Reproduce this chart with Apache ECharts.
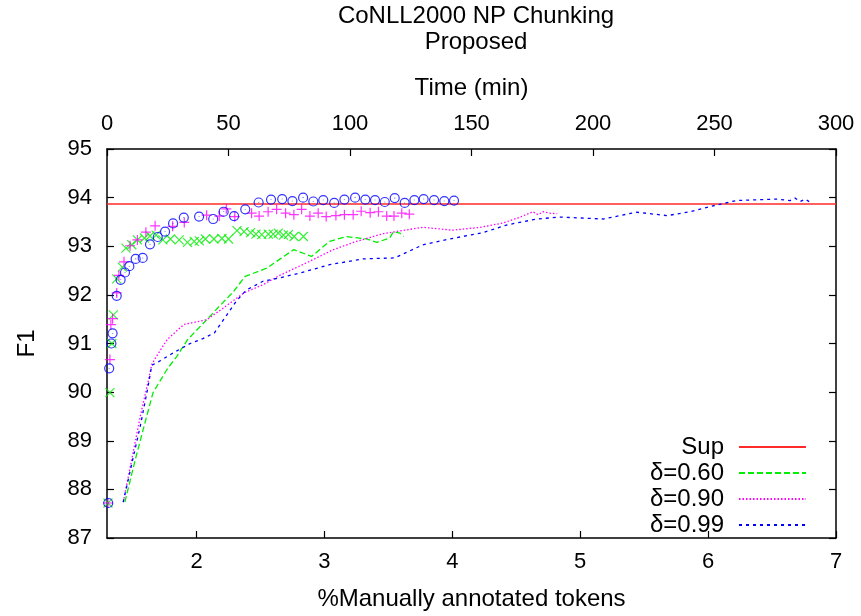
<!DOCTYPE html>
<html>
<head>
<meta charset="utf-8">
<script src="https://cdn.jsdelivr.net/npm/echarts@6/dist/echarts.min.js"></script>
<style>
  html, body { margin: 0; padding: 0; background: #fff; }
  #chart { width: 861px; height: 616px; }
</style>
</head>
<body>
<div id="chart"></div>
<script>
  // 하단축: %Manually annotated tokens / 상단축: Time (min)
  var tokenTicks = [2, 3, 4, 5, 6, 7];
  var supF1 = 93.87;

  // 선 (하단축 기준) [tokens, F1]
  var d060Line = [
    [1.44, 87.74], [1.52, 88.6], [1.60, 89.4], [1.66, 89.99], [1.77, 90.47], [1.85, 90.75],
    [1.93, 91.08], [2.08, 91.49], [2.18, 91.77], [2.29, 92.07], [2.38, 92.38], [2.55, 92.55],
    [2.66, 92.75], [2.76, 92.93], [2.90, 92.79], [3.04, 93.10], [3.17, 93.20], [3.33, 93.15],
    [3.41, 93.08], [3.51, 93.17], [3.54, 93.30], [3.59, 93.27], [3.62, 93.20]
  ];
  var d090Line = [
    [1.427, 87.74], [1.50, 88.7], [1.56, 89.5], [1.62, 90.2], [1.65, 90.57], [1.69, 90.75],
    [1.77, 91.08], [1.90, 91.39], [2.08, 91.49], [2.21, 91.73], [2.37, 92.04], [2.52, 92.21],
    [2.65, 92.40], [2.86, 92.66], [3.07, 92.93], [3.25, 93.10], [3.46, 93.26], [3.77, 93.39],
    [4.00, 93.33], [4.22, 93.39], [4.40, 93.48], [4.53, 93.60], [4.63, 93.71], [4.67, 93.65],
    [4.71, 93.71], [4.76, 93.68], [4.82, 93.67]
  ];
  var d099Line = [
    [1.427, 87.74], [1.50, 88.6], [1.56, 89.3], [1.62, 90.1], [1.65, 90.55], [1.72, 90.65],
    [1.80, 90.78], [1.95, 91.0], [2.05, 91.1], [2.14, 91.22], [2.24, 91.6], [2.31, 91.87],
    [2.39, 92.1], [2.52, 92.28], [2.65, 92.35], [2.81, 92.45], [3.04, 92.62], [3.30, 92.74],
    [3.55, 92.76], [3.77, 93.03], [3.98, 93.15], [4.24, 93.28], [4.43, 93.44], [4.66, 93.56],
    [4.84, 93.60], [5.18, 93.56], [5.44, 93.70], [5.68, 93.63], [5.86, 93.71], [6.07, 93.85],
    [6.22, 93.94], [6.54, 93.97], [6.64, 93.94], [6.68, 93.99], [6.72, 93.92], [6.76, 93.97],
    [6.80, 93.90]
  ];

  // 점 (상단축 기준) [min, F1]
  var d060Pts = [
    [0.4, 87.72], [1.2, 89.99], [2.0, 91.0], [2.6, 91.59], [4.0, 92.33], [6.3, 92.57],
    [7.8, 92.96], [10.2, 93.03], [12.5, 93.13], [15.4, 93.17], [17.7, 93.21], [20.2, 93.23],
    [23.0, 93.13], [26.1, 93.15], [29.7, 93.13], [33.1, 93.08], [35.9, 93.10], [38.0, 93.11],
    [40.5, 93.15], [44.0, 93.15], [47.3, 93.16], [50.0, 93.15], [53.5, 93.32], [56.4, 93.30],
    [59.1, 93.28], [61.3, 93.25], [63.7, 93.24], [66.4, 93.25], [68.4, 93.25], [70.5, 93.27],
    [72.6, 93.23], [74.6, 93.24], [77.0, 93.20], [80.8, 93.20]
  ];
  var d090Pts = [
    [0.4, 87.72], [1.2, 90.67], [1.6, 91.39], [2.3, 91.51], [4.0, 92.04], [4.9, 92.40],
    [7.0, 92.68], [9.5, 93.01], [12.5, 93.13], [16.0, 93.29], [19.8, 93.42], [27.0, 93.41],
    [31.8, 93.49], [41.0, 93.64], [46.2, 93.62], [49.1, 93.77], [52.6, 93.61], [59.5, 93.68],
    [62.6, 93.62], [66.3, 93.71], [69.8, 93.76], [73.5, 93.68], [76.9, 93.65], [80.1, 93.76],
    [83.5, 93.62], [86.9, 93.68], [90.2, 93.61], [94.2, 93.63], [97.7, 93.65], [101.3, 93.65],
    [104.6, 93.72], [108.3, 93.69], [111.7, 93.71], [115.1, 93.62], [118.1, 93.62], [121.3, 93.68],
    [124.4, 93.66]
  ];
  var d099Pts = [
    [0.5, 87.72], [0.9, 90.49], [1.8, 91.0], [2.3, 91.21], [4.0, 91.98], [5.6, 92.31],
    [7.4, 92.46], [9.2, 92.59], [11.8, 92.74], [14.7, 92.76], [17.7, 93.04], [20.9, 93.19],
    [23.9, 93.30], [27.2, 93.47], [31.6, 93.59], [37.9, 93.61], [43.7, 93.56], [48.0, 93.71],
    [52.3, 93.62], [56.9, 93.76], [62.4, 93.90], [67.5, 93.96], [72.1, 93.97], [76.3, 93.93],
    [80.7, 94.0], [84.9, 93.92], [89.0, 93.95], [93.5, 93.89], [97.7, 93.96], [102.1, 94.0],
    [106.3, 93.96], [110.3, 93.95], [114.3, 93.91], [118.4, 93.99], [122.5, 93.89], [126.5, 93.95],
    [130.3, 93.97], [134.6, 93.95], [138.8, 93.93], [142.8, 93.94]
  ];

  const FONT = 'Liberation Sans';
  const symCross = 'path://M0,0L10,10M10,0L0,10';
  const symPlus = 'path://M5,0L5,10M0,5L10,5';
  const symCircle = 'path://M0,10A10,10,0,1,0,20,10A10,10,0,1,0,0,10ZM10,9.4L10,10.6';

  let myChart = echarts.init(document.getElementById('chart'), null, { renderer: 'canvas' });

  const axisBase = {
    axisLine: { show: true, onZero: false, lineStyle: { color: '#000', width: 1.5 } },
    axisTick: { show: true, inside: true, length: 7, lineStyle: { color: '#000', width: 1.2 } },
    splitLine: { show: false },
    axisLabel: { color: '#000', fontSize: 22, fontFamily: FONT },
    nameTextStyle: { color: '#000', fontSize: 24, fontFamily: FONT }
  };

  const pointSeries = (name, data, symbol, color, size) => ({
    name: name,
    type: 'scatter',
    xAxisIndex: 1,
    yAxisIndex: 0,
    data: data,
    symbol: symbol,
    symbolSize: size,
    clip: false,
    itemStyle: { color: 'rgba(0,0,0,0)', borderColor: color, borderWidth: 1.2 },
    emphasis: { disabled: true },
    z: 3
  });

  const lineSeries = (name, data, color, dash, width) => ({
    name: name,
    type: 'line',
    xAxisIndex: 0,
    yAxisIndex: 0,
    data: data,
    symbol: 'none',
    smooth: false,
    lineStyle: { color: color, width: width, type: dash },
    itemStyle: { color: color },
    emphasis: { disabled: true },
    z: 2
  });

  let option = {
    animation: false,
    title: {
      text: 'CoNLL2000 NP Chunking\nProposed',
      left: 471,
      top: -2,
      textAlign: 'center',
      textStyle: { color: '#000', fontSize: 24, fontWeight: 'normal', fontFamily: FONT, lineHeight: 26 }
    },
    legend: {
      data: ['Sup', 'δ=0.60', 'δ=0.90', 'δ=0.99'],
      orient: 'vertical',
      align: 'right',
      right: 54,
      top: 435,
      padding: 0,
      itemWidth: 67,
      itemHeight: 14,
      itemGap: 2,
      itemStyle: { color: 'rgba(0,0,0,0)', borderWidth: 0, opacity: 0 },
      textStyle: { color: '#000', fontSize: 24, fontFamily: FONT, lineHeight: 22, padding: [0, 10, 0, 0] },
      selectedMode: false
    },
    grid: { left: 107, right: 25, top: 149, bottom: 77, containLabel: false },
    xAxis: [
      Object.assign({}, axisBase, {
        type: 'value',
        position: 'bottom',
        min: 1.3,
        max: 7,
        name: '%Manually annotated tokens',
        nameLocation: 'middle',
        nameGap: 49,
        axisTick: Object.assign({}, axisBase.axisTick, { customValues: tokenTicks }),
        axisLabel: Object.assign({}, axisBase.axisLabel, { customValues: tokenTicks, margin: 13 })
      }),
      Object.assign({}, axisBase, {
        type: 'value',
        position: 'top',
        min: 0,
        max: 300,
        interval: 50,
        name: 'Time (min)',
        nameLocation: 'middle',
        nameGap: 49,
        axisLabel: Object.assign({}, axisBase.axisLabel, { margin: 14 })
      })
    ],
    yAxis: [
      Object.assign({}, axisBase, {
        type: 'value',
        position: 'left',
        min: 87,
        max: 95,
        interval: 1,
        name: 'F1',
        nameLocation: 'middle',
        nameGap: 68,
        axisLabel: Object.assign({}, axisBase.axisLabel, { margin: 15 })
      }),
      Object.assign({}, axisBase, {
        type: 'value',
        position: 'right',
        min: 87,
        max: 95,
        interval: 1,
        axisLabel: { show: false }
      })
    ],
    series: [
      lineSeries('Sup', [[1.3, supF1], [7, supF1]], '#ff2a2a', 'solid', 1.6),
      lineSeries('δ=0.60', d060Line, '#00ee00', [6, 3], 1.3),
      lineSeries('δ=0.90', d090Line, '#ff00ff', [1.5, 2], 1.3),
      lineSeries('δ=0.99', d099Line, '#0000ff', [3, 4], 1.3),
      pointSeries('p0.60', d060Pts, symCross, '#00ee00', 9),
      pointSeries('p0.90', d090Pts, symPlus, '#ff00ff', 10),
      pointSeries('p0.99', d099Pts, symCircle, '#0000ff', 9)
    ]
  };

  option && myChart.setOption(option);
</script>
</body>
</html>
